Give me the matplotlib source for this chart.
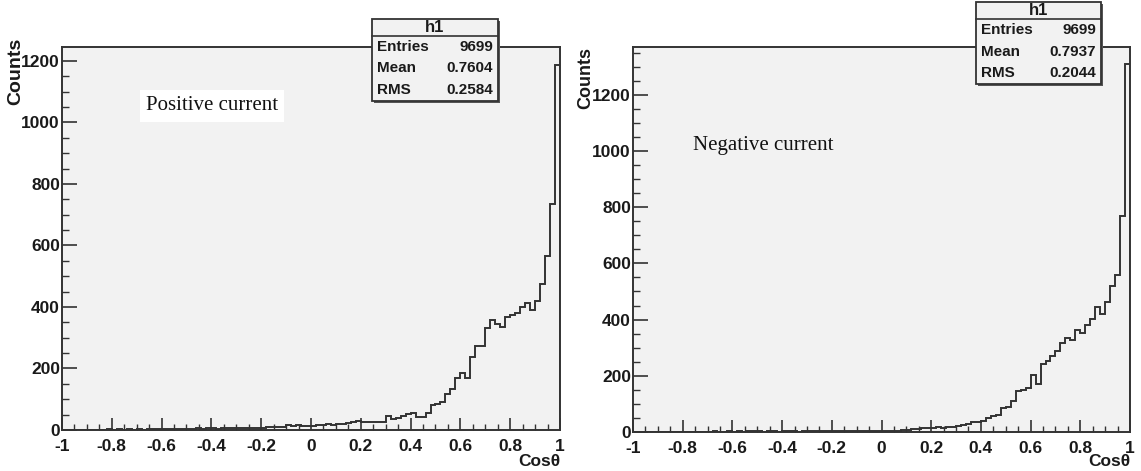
import numpy as np
import matplotlib
matplotlib.use("Agg")
import matplotlib.pyplot as plt
from matplotlib.patches import Rectangle
from matplotlib.ticker import MultipleLocator, FuncFormatter

# ---------------- data ----------------
x_range = (-1.0, 1.0)
n_bins = 100

counts_positive = [
    0, 1, 0, 1, 0,   1, 0, 1, 1, 2,   1, 2, 1, 2, 1,   2, 1, 3, 2, 2,
    3, 2, 4, 3, 3,   4, 3, 5, 4, 5,   5, 4, 6, 5, 6,   6, 7, 5, 8, 7,
    8, 9, 10, 9, 11, 16, 14, 15, 13, 14, 13, 15, 16, 19, 17, 18, 19, 22, 25, 30,
    27, 27, 27, 27, 27, 46, 36, 39, 45, 52, 56, 41, 41, 55, 80,
    84, 92, 116, 132, 170, 186, 169, 238, 273, 273,
    331, 357, 343, 335, 367, 373, 380, 400, 413, 391,
    419, 476, 567, 735, 1187,
]
counts_negative = [
    0, 0, 1, 0, 0,   0, 1, 0, 0, 1,   1, 0, 1, 1, 0,   1, 2, 1, 1, 2,
    1, 2, 1, 2, 2,   2, 1, 2, 2, 1,   2, 3, 2, 1, 2,   2, 3, 2, 3, 2,
    3, 2, 3, 4, 3,   4, 3, 5, 4, 3,   4, 3, 4, 5, 7,   8, 12, 11, 13, 15,
    16, 17, 16, 18, 19, 22, 25, 27, 36, 36, 38, 50, 58, 62, 84,
    90, 112, 145, 150, 155, 203, 171, 242, 254, 271,
    290, 316, 334, 328, 363, 351, 381, 401, 444, 421,
    464, 521, 559, 769, 1310,
]

panel_labels = ["Positive current", "Negative current"]
stats_names = ["Entries", "Mean", "RMS"]
stats_positive = ["9699", "0.7604", "0.2584"]
stats_negative = ["9699", "0.7937", "0.2044"]
hist_name = "h1"
xlabel = "Cos\u03b8"
ylabel = "Counts"

# ---------------- figure ----------------
W, H = 1141, 471
fig = plt.figure(figsize=(W / 100, H / 100), dpi=100)
fig.patch.set_facecolor("white")

def fx(x):
    return x / W

def fy(y):
    return 1 - y / H

edges = np.linspace(x_range[0], x_range[1], n_bins + 1)

panels = [
    dict(counts=counts_positive, stats=stats_positive, label=panel_labels[0],
         frame=(62, 47, 560, 430), ymax=1245,
         box=(372, 19, 498, 101), head=17, text_xy=(146, 106), text_bg=True,
         ylab_x=16, ylab_top=38, ylab_size=14),
    dict(counts=counts_negative, stats=stats_negative, label=panel_labels[1],
         frame=(633, 47, 1130, 432), ymax=1370,
         box=(976, 2, 1101, 84), head=17, text_xy=(693, 146), text_bg=False,
         ylab_x=586, ylab_top=47, ylab_size=13),
]

line_col = "#333333"
face_col = "#f2f2f2"
text_col = "#1a1a1a"
font_sans = ["Liberation Sans", "DejaVu Sans"]

for p in panels:
    l, t, r, b = p["frame"]
    ax = fig.add_axes([fx(l), fy(b), fx(r) - fx(l), fy(t) - fy(b)])
    ax.set_facecolor(face_col)
    ax.stairs(p["counts"], edges, color=line_col, linewidth=1.4, baseline=0)
    ax.set_xlim(*x_range)
    ax.set_ylim(0, p["ymax"])
    for s in ax.spines.values():
        s.set_color(line_col)
        s.set_linewidth(1.4)
    ax.xaxis.set_major_locator(MultipleLocator(0.2))
    ax.xaxis.set_minor_locator(MultipleLocator(0.05))
    ax.yaxis.set_major_locator(MultipleLocator(200))
    ax.yaxis.set_minor_locator(MultipleLocator(50))
    ax.xaxis.set_major_formatter(FuncFormatter(
        lambda v, pos: ("0" if abs(v) < 1e-9 else f"{v:.1f}".rstrip("0").rstrip("."))))
    ax.yaxis.set_major_formatter(FuncFormatter(lambda v, pos: f"{int(round(v))}"))
    ax.tick_params(axis="x", which="major", direction="in", length=8.5, width=1.2,
                   color=line_col, pad=6.5, top=False)
    ax.tick_params(axis="x", which="minor", direction="in", length=4.3, width=1.0,
                   color=line_col, top=False)
    ax.tick_params(axis="y", which="major", direction="in", length=10.5, width=1.2,
                   color=line_col, pad=1.5, right=False)
    ax.tick_params(axis="y", which="minor", direction="in", length=5, width=1.0,
                   color=line_col, right=False)
    for lab in ax.get_xticklabels() + ax.get_yticklabels():
        lab.set_fontfamily(font_sans)
        lab.set_fontweight("bold")
        lab.set_fontsize(12.5)
        lab.set_color(text_col)

    # axis titles
    fig.text(fx(p["ylab_x"]), fy(p["ylab_top"]), ylabel, rotation=90, ha="center",
             va="top", fontsize=p["ylab_size"], fontweight="bold", family=font_sans,
             color=text_col)
    fig.text(fx(r), fy(462), xlabel, ha="right", va="center", fontsize=12.5,
             fontweight="bold", family=font_sans, color=text_col)

    # annotation text
    tx, ty = p["text_xy"]
    kw = dict(ha="left", va="center", fontsize=15, family=["Liberation Serif", "DejaVu Serif"],
              color="#111111")
    if p["text_bg"]:
        kw["bbox"] = dict(boxstyle="square,pad=0.3", facecolor="white", edgecolor="none")
    fig.text(fx(tx), fy(ty), p["label"], **kw)

    # stats box
    bl, bt, br, bb = p["box"]
    shadow = Rectangle((fx(bl + 2), fy(bb + 2)), fx(br - bl), fy(bt) - fy(bb),
                       transform=fig.transFigure, facecolor="#555555", edgecolor="none",
                       zorder=5)
    fig.add_artist(shadow)
    box = Rectangle((fx(bl), fy(bb)), fx(br - bl), fy(bt) - fy(bb),
                    transform=fig.transFigure, facecolor=face_col, edgecolor=line_col,
                    linewidth=1.3, zorder=6)
    fig.add_artist(box)
    head_b = bt + p["head"]
    fig.add_artist(plt.Line2D([fx(bl), fx(br)], [fy(head_b), fy(head_b)],
                              transform=fig.transFigure, color=line_col, linewidth=1.2,
                              zorder=7))
    fig.text(fx((bl + br) / 2), fy((bt + head_b) / 2), hist_name, ha="center", va="center",
             fontsize=12, fontweight="bold", family=font_sans, zorder=8, color=text_col)
    row_h = (bb - head_b) / 3
    for i, (nm, val) in enumerate(zip(stats_names, p["stats"])):
        yc = head_b + row_h * (i + 0.5)
        fig.text(fx(bl + 5), fy(yc), nm, ha="left", va="center", fontsize=11,
                 fontweight="bold", family=font_sans, zorder=8, color=text_col)
        fig.text(fx(br - 5), fy(yc), val, ha="right", va="center", fontsize=11,
                 fontweight="bold", family=font_sans, zorder=8, color=text_col)

fig.savefig("out.png", dpi=100, facecolor="white")
